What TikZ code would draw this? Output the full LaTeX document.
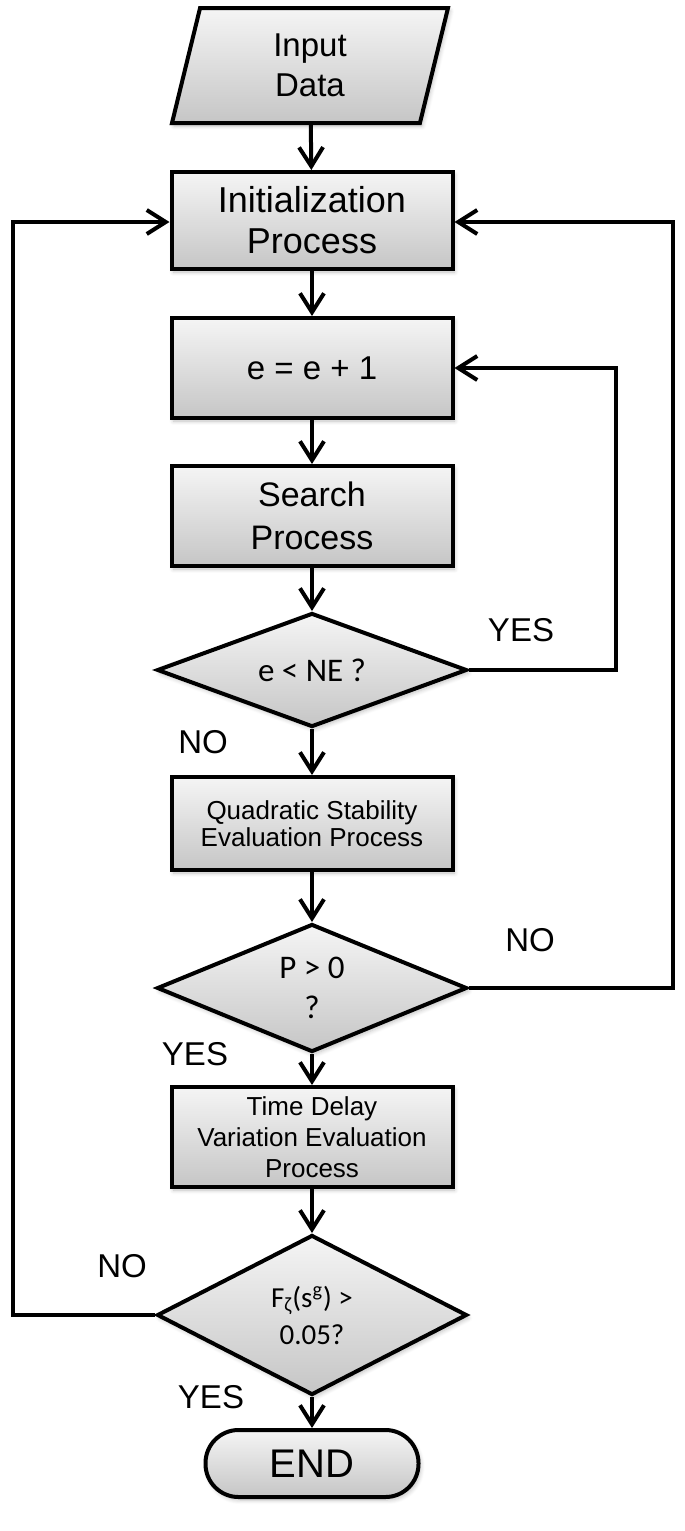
\documentclass[tikz,border=0pt]{standalone}
\usepackage{fontspec}
\setmainfont{Liberation Sans}
\newfontfamily\calibfont{Carlito}
\usetikzlibrary{arrows.meta,calc,positioning,shapes.geometric,shadows.blur}
\definecolor{flowLine}{HTML}{000000}

\begin{document}
\begin{tikzpicture}[x=0.5pt, y=-0.5pt,
    every node/.style={text=black},
    boxshade/.style={draw=flowLine, line width=2pt, top color=gray!8, bottom color=gray!45,
      blur shadow={shadow xshift=1pt, shadow yshift=-1.5pt, shadow opacity=25, shadow blur steps=6}},
    procbox/.style={boxshade, rectangle, align=center, minimum width=140.5pt, inner sep=2pt},
    decision/.style={boxshade, diamond, align=center, minimum width=155pt, inner sep=0pt},
    flowarr/.style={draw=flowLine, line width=2pt, -{Straight Barb[length=9.5pt,width=12pt]}},
    branchlbl/.style={font=\fontsize{16.5}{20}\selectfont}]
    \useasboundingbox (0,0) rectangle (685,1531);
    % main column
    \node[boxshade, trapezium, trapezium left angle=66, trapezium right angle=114,
      trapezium stretches body=true, minimum width=138pt, minimum height=57.5pt,
      align=center, inner sep=0pt, font=\fontsize{16.5}{20}\selectfont] (input) at (310,65.5) {Input\\Data};
    \node[procbox, minimum height=48.5pt, font=\fontsize{18}{20.5}\selectfont] (init) at (312,220.5) {Initialization\\Process};
    \node[procbox, minimum height=50pt, font=\fontsize{16.5}{20}\selectfont] (incr) at (312,368) {e = e + 1};
    \node[procbox, minimum height=50pt, font=\fontsize{17}{21.5}\selectfont] (search) at (312,516) {Search\\Process};
    \node[decision, aspect=2.7, minimum height=57pt, font=\calibfont\fontsize{16.5}{19}\selectfont] (ckne) at (312,670) {e {<} NE ?};
    \node[procbox, minimum height=46.5pt, font=\fontsize{13}{13.5}\selectfont] (quad) at (312,823.5) {Quadratic Stability\\Evaluation Process};
    \node[decision, aspect=2.4, minimum height=64pt, font=\calibfont\fontsize{16.5}{20}\selectfont] (ckp) at (312,988) {P {>} 0\\?};
    \node[procbox, minimum height=50pt, font=\fontsize{13}{15.5}\selectfont] (delay) at (312,1137) {Time Delay\\Variation Evaluation\\Process};
    \node[decision, aspect=1.94, minimum height=80pt, font=\calibfont\fontsize{14.5}{18.5}\selectfont] (ckf) at (312,1315) {F\textsubscript{ζ}(s\textsuperscript{g}) {>}\\0.05?};
    \node[boxshade, rectangle, rounded corners=16.5pt, minimum width=106.5pt, minimum height=33.5pt,
      font=\fontsize{20}{24}\selectfont] (finish) at (312,1463.5) {END};

    % loop corners
    \coordinate (yesturn) at (616,368);
    \coordinate (pturn) at (673,222);
    \coordinate (fturn) at (13,222);

    \draw[flowarr] (input) -- (init);
    \draw[flowarr] (init) -- (incr);
    \draw[flowarr] (incr) -- (search);
    \draw[flowarr] (search) -- (ckne);
    \draw[flowarr] (ckne) -- (quad);
    \draw[flowarr] (quad) -- (ckp);
    \draw[flowarr] (ckp) -- (delay);
    \draw[flowarr] (delay) -- (ckf);
    \draw[flowarr] (ckf) -- (finish);
    \draw[flowarr] (ckne.east) -| (yesturn) -- (incr.east);
    \draw[flowarr] (ckp.east) -| (pturn) -- (init.east |- pturn);
    \draw[flowarr] (ckf.west) -| (fturn) -- (init.west |- fturn);

    \node[branchlbl] (yesne) at (521,630) {YES};
    \node[branchlbl] (none) at (203,742) {NO};
    \node[branchlbl] (nop) at (530,940) {NO};
    \node[branchlbl] (yesp) at (195,1054) {YES};
    \node[branchlbl] (nof) at (122,1266) {NO};
    \node[branchlbl] (yesf) at (211,1397) {YES};
  \end{tikzpicture}
\end{document}
